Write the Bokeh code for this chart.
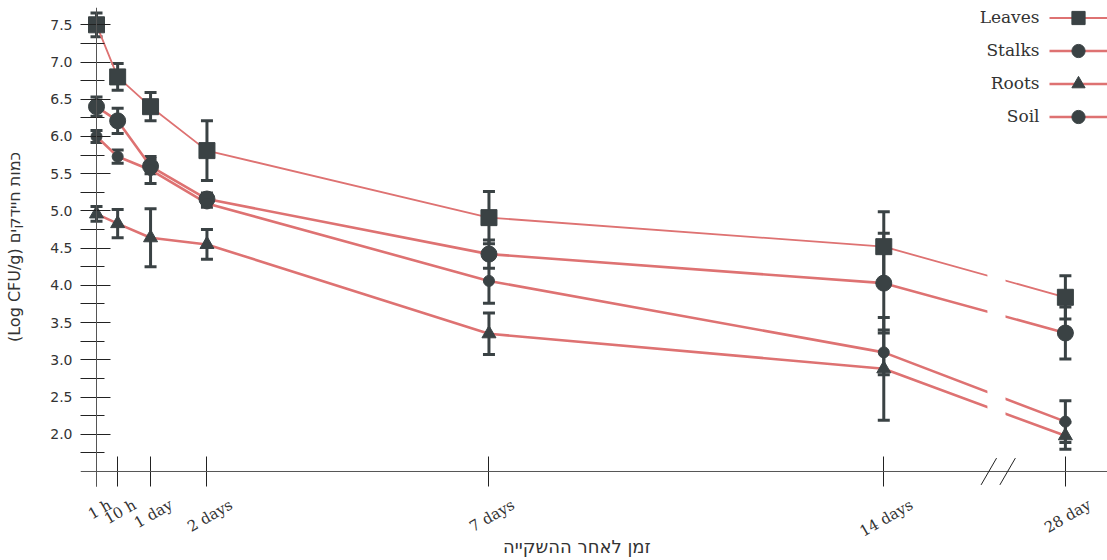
import math
from bokeh.plotting import figure
from bokeh.models import (ColumnDataSource, Range1d, FixedTicker, Whisker, TeeHead, LinearAxis,
                          Legend, LegendItem, Label, BoxAnnotation, Arrow, Span)
from bokeh.core.properties import value
from bokeh.embed import file_html
from bokeh.resources import INLINE

# ---------------- data ----------------
time_labels = ["1 h", "10 h", "1 day", "2 days", "7 days", "14 days", "28 day"]
time_hours = [1, 10, 24, 48, 168, 336, 672]

series_names = ["Leaves", "Stalks", "Roots", "Soil"]
leaves = [7.50, 6.80, 6.40, 5.81, 4.91, 4.52, 3.84]
leaves_err = [0.16, 0.18, 0.19, 0.40, 0.35, 0.47, 0.29]
stalks = [6.40, 6.21, 5.60, 5.16, 4.42, 4.03, 3.36]
stalks_err = [0.13, 0.17, 0.10, 0.08, 0.19, 0.67, 0.35]
roots = [4.96, 4.83, 4.64, 4.55, 3.35, 2.88, 1.98]
roots_err = [0.10, 0.19, 0.39, 0.20, 0.28, 0.69, 0.18]
soil = [6.00, 5.73, 5.55, 5.10, 4.06, 3.10, 2.17]
soil_err = [0.08, 0.09, 0.18, 0.05, 0.30, 0.30, 0.28]

y_ticks = [2.0, 2.5, 3.0, 3.5, 4.0, 4.5, 5.0, 5.5, 6.0, 6.5, 7.0, 7.5]
y_minor = [1.75, 2.25, 2.75, 3.25, 3.75, 4.25, 4.75, 5.25, 5.75, 6.25, 6.75, 7.25]

x_title = "זמן לאחר ההשקייה"
y_title = "(Log CFU/g) כמות חיידקים"

# ---------------- axis break (compressed time after 14 days) ----------------
BREAK_START = 336
BREAK_SCALE = 0.23
BREAK_X = 384.7
X_AXIS_AT = 1.5


def axis_pos(h):
    return h if h <= BREAK_START else BREAK_START + (h - BREAK_START) * BREAK_SCALE


x_pos = [axis_pos(h) for h in time_hours]

SALMON = "#de7272"
DARK = "#3a4244"
AXIS = "#555555"
TICK = "#222222"
TEXT = "#333333"

X0, X1 = -5.81, 431.2
LEFT, RIGHT = 80, 0
W, H = 1107, 560
PX_PER_X = (W - LEFT - RIGHT) / (X1 - X0)

p = figure(width=W, height=H, output_backend="svg", toolbar_location=None,
           x_range=Range1d(X0, X1), y_range=Range1d(1.2985, 7.7324),
           min_border_left=LEFT, min_border_right=RIGHT, min_border_top=7, min_border_bottom=74)
p.outline_line_color = None
p.xgrid.grid_line_color = None
p.ygrid.grid_line_color = None
p.background_fill_color = "white"

# x axis ticks (the axis line itself is drawn at y = 1.5)
xa = p.xaxis[0]
xa.ticker = FixedTicker(ticks=x_pos)
xa.major_label_overrides = {x: "" for x in x_pos}
xa.major_label_text_font_size = "0px"
xa.major_label_standoff = 0
xa.major_tick_in = 30
xa.major_tick_out = 0
xa.minor_tick_in = 0
xa.minor_tick_out = 0
xa.axis_line_color = None
xa.major_tick_line_color = TICK

# x tick labels: rotated labels, centred on their ticks
CHAR_W = 8.2
ANG = math.pi / 6
label_ticks = [x + (CHAR_W * len(lab) / 2 * math.cos(ANG) + 3) / PX_PER_X
               for x, lab in zip(x_pos, time_labels)]
la = LinearAxis(ticker=FixedTicker(ticks=label_ticks))
la.major_label_overrides = {x: lab for x, lab in zip(label_ticks, time_labels)}
la.major_label_orientation = ANG
la.major_tick_in = 0
la.major_tick_out = 0
la.minor_tick_in = 0
la.minor_tick_out = 0
la.axis_line_color = None
la.major_label_standoff = 17
la.major_label_text_font = "DejaVu Serif"
la.major_label_text_font_size = "15px"
la.major_label_text_color = TEXT
# title centred a little left of the frame centre, as in the original
la.axis_label = x_title + "\u00a0" * 6
la.axis_label_standoff = -15
la.axis_label_text_font = "DejaVu Sans"
la.axis_label_text_font_size = "18px"
la.axis_label_text_font_style = "normal"
la.axis_label_text_color = TEXT
p.add_layout(la, "below")

# y axis (labels + ticks; the axis line itself is drawn at the first time point)
ya = p.yaxis[0]
ya.ticker = FixedTicker(ticks=y_ticks, minor_ticks=y_minor)
ya.major_label_overrides = {t: f"{t:.1f}" for t in y_ticks}
ya.major_tick_in = 30
ya.major_tick_out = 0
ya.minor_tick_in = 24
ya.minor_tick_out = 0
ya.major_label_standoff = 8
ya.axis_line_color = None
ya.major_tick_line_color = TICK
ya.minor_tick_line_color = TICK
ya.major_label_text_font = "DejaVu Sans"
ya.major_label_text_font_size = "14px"
ya.major_label_text_color = TEXT
ya.axis_label = y_title
ya.axis_label_standoff = 23
ya.axis_label_text_font = "DejaVu Sans"
ya.axis_label_text_font_size = "16px"
ya.axis_label_text_font_style = "normal"
ya.axis_label_text_color = TEXT

p.add_layout(Span(location=x_pos[0], dimension="height", line_color=AXIS, line_width=1))
p.add_layout(Span(location=X_AXIS_AT, dimension="width", line_color=AXIS, line_width=1))

series = [
    (leaves, leaves_err, "square", 16, 1.8),
    (stalks, stalks_err, "circle", 16, 2.6),
    (roots, roots_err, "triangle", 14, 2.6),
    (soil, soil_err, "circle", 11, 2.6),
]

line_rs = []
for vals, errs, m, s, lw in series:
    line_rs.append(p.line(x_pos, vals, line_color=SALMON, line_width=lw))

for vals, errs, m, s, lw in series:
    src = ColumnDataSource(dict(x=x_pos,
                                lower=[v - e for v, e in zip(vals, errs)],
                                upper=[v + e for v, e in zip(vals, errs)]))
    p.add_layout(Whisker(source=src, base="x", lower="lower", upper="upper",
                         line_color=DARK, line_width=3,
                         upper_head=TeeHead(size=12, line_color=DARK, line_width=3),
                         lower_head=TeeHead(size=12, line_color=DARK, line_width=3)))

marker_rs = []
for vals, errs, m, s, lw in series:
    marker_rs.append(p.scatter(x_pos, vals, marker=m, size=s, fill_color=DARK, line_color=DARK))

# gap in the lines at the axis break
p.add_layout(BoxAnnotation(left=BREAK_X - 4.6, right=BREAK_X + 3.1, bottom=1.6, top=4.7,
                           fill_color="white", fill_alpha=1.0, line_color=None))
# break marks on the x axis
for cx in (BREAK_X - 4.0, BREAK_X + 4.0):
    p.add_layout(Arrow(end=None, x_start=cx - 3.3, y_start=1.32, x_end=cx + 3.3, y_end=1.68,
                       line_color=TICK, line_width=1))

# legend: glyphs via Legend, names as labels to the left
items = [LegendItem(label=value(""), renderers=[lr, mr]) for lr, mr in zip(line_rs, marker_rs)]
legend = Legend(items=items, location=(969, 353), glyph_width=58, glyph_height=33, spacing=-2,
                padding=0, margin=0, label_width=0, label_standoff=0,
                border_line_color=None, background_fill_alpha=0)
p.add_layout(legend)

ROW0 = 470
PITCH = 33.3
for i, name in enumerate(series_names):
    p.add_layout(Label(x=959, y=ROW0 - i * PITCH, x_units="screen", y_units="screen", text=name,
                       text_align="right", text_baseline="middle", text_font="DejaVu Serif",
                       text_font_size="17px", text_color=TEXT))

open("out.html", "w").write(file_html(p, INLINE))
